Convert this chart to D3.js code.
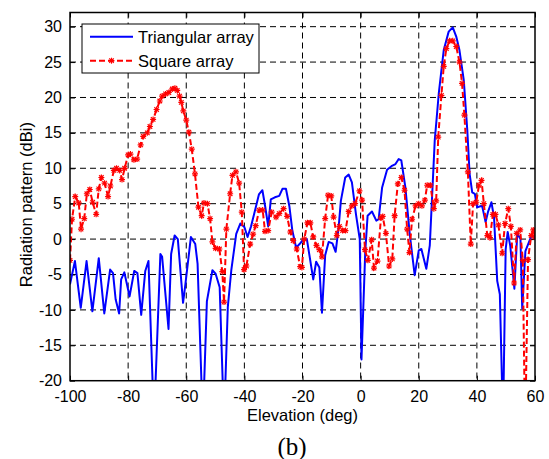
<!DOCTYPE html>
<html>
<head>
<meta charset="utf-8">
<script src="https://cdn.jsdelivr.net/npm/d3@7"></script>
<style>
  body { margin: 0; background: #fff; }
  text { font-family: "Liberation Sans", Arial, sans-serif; }
</style>
</head>
<body>
<div id="chart"></div>
<script>
// elevation (deg) / gain (dBi)
const triAngle = [-100, -98.3, -96.3, -94.3, -92.3, -90.1, -88.2, -86.2, -85.2, -84.3, -83.1, -82.4, -81.3, -79.5, -77.9, -76.8, -75.5, -74.1, -73.0, -71.1,
  -68.9, -68.3, -66.1, -65.2, -64.0, -62.9, -61.1, -60.3, -58.4, -56.9, -56.1, -54.3, -52.9, -51.0, -49.9, -48.5, -47.0, -45.7, -44.5, -42.8,
  -41.4, -40.0, -38.9, -37.7, -36.6, -35.0, -33.8, -32.8, -31.8, -30.9, -29.5, -28.0, -26.9, -25.7, -24.5, -23.5, -22.2, -21.0, -20.0, -18.5,
  -17.8, -16.3, -15.3, -14.2, -13.3, -12.2, -11.0, -9.7, -8.6, -7.6, -6.8, -5.3, -4.1, -3.0, -1.6, -0.3, 0.3, 1.6, 2.4, 3.9,
  5.4, 6.2, 7.4, 9.1, 10.6, 12.0, 13.1, 14.0, 15.4, 16.9, 18.6, 20.0, 20.9, 22.6, 23.8, 25.5, 26.9, 28.6, 30.3, 31.7,
  32.9, 34.0, 35.5, 36.7, 37.5, 38.4, 39.3, 40.1, 41.8, 43.0, 43.8, 45.0, 45.9, 47.0, 47.9, 49.0, 49.9, 50.6, 51.5, 52.9,
  53.9, 55.0, 55.6, 56.7, 58.9, 60];
const triGain = [-6.4, -3.1, -9.7, -3.1, -10.2, -2.7, -10.5, -4.3, -4.8, -8.5, -10.5, -5.7, -4.7, -8.1, -4.5, -4.8, -10.7, -4.5, -3.1, -26,
  -2.1, -2.5, -12.7, -2.1, 0.5, 0, -9.0, -6.4, 0.3, -0.7, -3.5, -26, -8.8, -4.4, -4.9, -6.8, -26, -9.6, -4.4, 0.75,
  2.2, 1.7, 0.3, 1.8, 3.6, 6.3, 6.9, 4.5, 1.8, 5.6, 5.9, 6.1, 7.1, 7.1, 4.6, 1.2, -1.2, -0.7, -0.2, 0,
  -1.8, -5.7, -3.2, -4.0, -10.4, -2.3, -0.4, -0.6, -1.8, 1.5, 5.4, 8.7, 9.1, 8.0, 3.5, 0, -17, -1.7, 3.3, 3.9,
  2.6, 2.8, 7.3, 9.8, 10.3, 10.6, 11.3, 11.1, 7.3, 0.7, -5.1, -1.6, -1.4, -4.2, -0.9, 13.9, 20.6, 26.7, 29.3, 29.9,
  28.6, 26.7, 22.4, 15.4, 9.2, 6.6, 6.4, 4.5, 4.7, 2.4, 3.8, 5.2, 3.1, -5.9, -7.8, -26, -1.5, 1.0, -1.0, -7.0,
  0.8, 0, -9.8, -1.7, 0.6, 0];

const sqAngle = [-100, -99.3, -98.2, -97.0, -96.2, -95.1, -94.2, -93.2, -92.2, -91.0, -90.1, -89.2, -88.1, -86.9, -86.1, -84.9, -84.0, -82.9, -82.1, -81.2,
  -80.0, -79.2, -78.0, -76.9, -75.7, -74.8, -73.4, -72.5, -71.4, -70.2, -69.1, -68.3, -67.1, -66.0, -64.8, -63.9, -63.1, -62.3, -61.7, -61.0,
  -60.0, -59.1, -58.1, -57.0, -55.8, -54.7, -53.9, -52.7, -51.8, -51.0, -49.9, -48.6, -47.6, -47.0, -46.2, -44.9, -44.1, -42.9, -41.8, -40.9,
  -40.1, -39.3, -38.0, -37.0, -36.1, -34.9, -33.7, -32.9, -31.8, -30.6, -29.1, -28.0, -26.5, -25.3, -24.2, -23.2, -22.0, -20.8, -20.2, -19.4,
  -18.3, -17.3, -16.3, -15.2, -14.2, -13.3, -12.2, -11.2, -10.1, -9.3, -8.2, -7.3, -6.2, -5.2, -4.1, -3.0, -1.9, -0.4, 0.5, 1.5,
  2.5, 3.8, 4.6, 5.8, 7.0, 7.6, 8.7, 9.8, 10.9, 11.7, 12.8, 14.0, 15.1, 16.0, 16.8, 17.7, 18.9, 20.0, 21.1, 22.1,
  22.9, 24.0, 25.2, 26.0, 26.7, 27.8, 28.6, 29.5, 30.6, 31.7, 32.9, 34.0, 34.9, 35.7, 36.9, 37.9, 38.7, 39.8, 40.7, 41.6,
  42.4, 43.6, 44.5, 45.5, 46.4, 47.4, 48.7, 49.7, 50.8, 51.7, 52.8, 53.7, 54.9, 55.8, 56.6, 57.6, 58.7, 59.4, 60];
const sqGain = [-3, 2.8, 6, 5.1, 1.4, 2.9, 6.4, 7, 5.2, 3.5, 7.1, 8.7, 7.9, 6, 7.5, 9.7, 10, 9.7, 8.4, 10,
  11.9, 12, 11.2, 11.3, 13.3, 14.5, 15, 15.9, 16.9, 18.3, 19.5, 20.2, 20.5, 20.7, 21.2, 21.3, 21, 20.2, 19.3, 18.1,
  16.8, 15.1, 12.7, 9.2, 4.5, 3.3, 5.1, 5, 2.9, -0.4, -1.3, -1.4, -4.6, -8.9, 1.4, 6.4, 9.0, 9.5, 7.9, 3.8,
  -4.3, -3.8, -0.7, 0.7, 1.9, 4.1, 4.1, 1.1, 1.2, 3.8, 3.1, 3.6, 4.3, 3.2, 1.0, -0.2, -1.4, -3.9, -4.0, 0,
  2.3, 2.3, 0.3, -0.9, -1.5, -2.5, 2.9, 6.2, 6.1, 3.1, 0.5, 1.8, 1.2, 1.2, 3.9, 4.7, 5.0, 6.8, 5.5, -1.5,
  -3.0, -0.1, -4.1, -3.1, 3.0, 3.2, 0.8, -3.8, -2.8, 3.3, 7.8, 8.7, 6.9, 1.4, -1.9, 2.8, 4.7, 5.0, 4.7, 5.5,
  7.6, 7.6, 4.3, 5.4, 14.4, 20.3, 24.4, 26.9, 28, 28, 27.2, 25, 22, 17.5, 9.5, -0.7, 5, 5.2, 7.6, 8.3,
  5, 0.5, 0.2, 3.5, 3.5, 2.0, -2.0, 2.2, 4.3, 1.8, -6.2, 0.8, 1.3, -3.0, -28, -2.9, 0.5, 1.3, 0.3];

const xTicks = [-100, -80, -60, -40, -20, 0, 20, 40, 60];
const yTicks = [-20, -15, -10, -5, 0, 5, 10, 15, 20, 25, 30];
const seriesNames = ["Triangular array", "Square array"];

const W = 549, H = 459;
const m = {left: 70, right: 535, top: 12.5, bottom: 380.7};

const svg = d3.select("#chart").append("svg")
  .attr("width", W).attr("height", H);

const x = d3.scaleLinear().domain([-100, 60]).range([m.left, m.right]);
const y = d3.scaleLinear().domain([-20, 32]).range([m.bottom, m.top]);

// grid
svg.append("g").selectAll("line").data(xTicks.slice(1, -1)).join("line")
  .attr("x1", d => x(d)).attr("x2", d => x(d))
  .attr("y1", m.top).attr("y2", m.bottom)
  .attr("stroke", "#000").attr("stroke-width", 1).attr("stroke-dasharray", "6,4");
svg.append("g").selectAll("line").data(yTicks.slice(1)).join("line")
  .attr("x1", m.left).attr("x2", m.right)
  .attr("y1", d => y(d)).attr("y2", d => y(d))
  .attr("stroke", "#000").attr("stroke-width", 1).attr("stroke-dasharray", "6,4");

// axes (ticks inside, box on)
const fmt = d => String(d);
const axB = svg.append("g").attr("transform", `translate(0,${m.bottom})`)
  .call(d3.axisBottom(x).tickValues(xTicks).tickSizeInner(-5).tickSizeOuter(0).tickPadding(10).tickFormat(fmt));
const axL = svg.append("g").attr("transform", `translate(${m.left},0)`)
  .call(d3.axisLeft(y).tickValues(yTicks).tickSizeInner(-5).tickSizeOuter(0).tickPadding(8).tickFormat(fmt));
const axT = svg.append("g").attr("transform", `translate(0,${m.top})`)
  .call(d3.axisTop(x).tickValues(xTicks).tickSizeInner(-5).tickSizeOuter(0).tickFormat(""));
const axR = svg.append("g").attr("transform", `translate(${m.right},0)`)
  .call(d3.axisRight(y).tickValues(yTicks).tickSizeInner(-5).tickSizeOuter(0).tickFormat(""));
[axB, axL, axT, axR].forEach(a => {
  a.select(".domain").remove();
  a.selectAll("line").attr("stroke", "#000");
  a.selectAll("text").attr("font-size", 16).attr("fill", "#000")
    .style("font-family", "'Liberation Sans', Arial, sans-serif");
});

// clip
svg.append("clipPath").attr("id", "clip").append("rect")
  .attr("x", m.left).attr("y", m.top).attr("width", m.right - m.left).attr("height", m.bottom - m.top);

const plot = svg.append("g").attr("clip-path", "url(#clip)");

const line = d3.line().x(d => x(d[0])).y(d => y(d[1]));
const triData = triAngle.map((a, i) => [a, triGain[i]]);
const sqData = sqAngle.map((a, i) => [a, sqGain[i]]);

plot.append("path").datum(triData)
  .attr("d", line).attr("fill", "none")
  .attr("stroke", "#0000ff").attr("stroke-width", 2).attr("stroke-linejoin", "round");

plot.append("path").datum(sqData)
  .attr("d", line).attr("fill", "none")
  .attr("stroke", "#ff0000").attr("stroke-width", 2).attr("stroke-dasharray", "6,3");

function star(g, cx, cy, r) {
  const s = g.append("g").attr("transform", `translate(${cx},${cy})`)
    .attr("stroke", "#ff0000").attr("stroke-width", 1.2);
  s.append("line").attr("x1", -r).attr("x2", r).attr("y1", 0).attr("y2", 0);
  s.append("line").attr("x1", 0).attr("x2", 0).attr("y1", -r).attr("y2", r);
  s.append("line").attr("x1", -r * 0.75).attr("x2", r * 0.75).attr("y1", -r * 0.75).attr("y2", r * 0.75);
  s.append("line").attr("x1", -r * 0.75).attr("x2", r * 0.75).attr("y1", r * 0.75).attr("y2", -r * 0.75);
}
const markers = plot.append("g");
sqData.forEach(d => star(markers, x(d[0]), y(d[1]), 3));

// frame
svg.append("rect").attr("x", m.left).attr("y", m.top)
  .attr("width", m.right - m.left).attr("height", m.bottom - m.top)
  .attr("fill", "none").attr("stroke", "#000").attr("stroke-width", 1.5);

// legend
const lg = svg.append("g");
lg.append("rect").attr("x", 82).attr("y", 24).attr("width", 177).attr("height", 49)
  .attr("fill", "#fff").attr("stroke", "#000").attr("stroke-width", 1);
lg.append("line").attr("x1", 90).attr("x2", 133).attr("y1", 36.7).attr("y2", 36.7)
  .attr("stroke", "#0000ff").attr("stroke-width", 2);
lg.append("line").attr("x1", 90).attr("x2", 133).attr("y1", 60.7).attr("y2", 60.7)
  .attr("stroke", "#ff0000").attr("stroke-width", 2).attr("stroke-dasharray", "6,3");
star(lg, 111.5, 60.7, 3);
lg.selectAll("text.lab").data(seriesNames).join("text")
  .attr("x", 138).attr("y", (d, i) => 42.5 + i * 24)
  .attr("font-size", 16.5).attr("fill", "#000").text(d => d);

// titles
svg.append("text").attr("x", (m.left + m.right) / 2).attr("y", 421)
  .attr("text-anchor", "middle").attr("font-size", 16.5).text("Elevation (deg)");
svg.append("text").attr("transform", `translate(32,${(m.top + m.bottom) / 2 + 8}) rotate(-90)`)
  .attr("text-anchor", "middle").attr("font-size", 16.5).text("Radiation pattern (dBi)");
svg.append("text").attr("x", 292).attr("y", 455)
  .attr("text-anchor", "middle").attr("font-size", 25)
  .style("font-family", "'Liberation Serif', 'Times New Roman', serif").text("(b)");
</script>
</body>
</html>
